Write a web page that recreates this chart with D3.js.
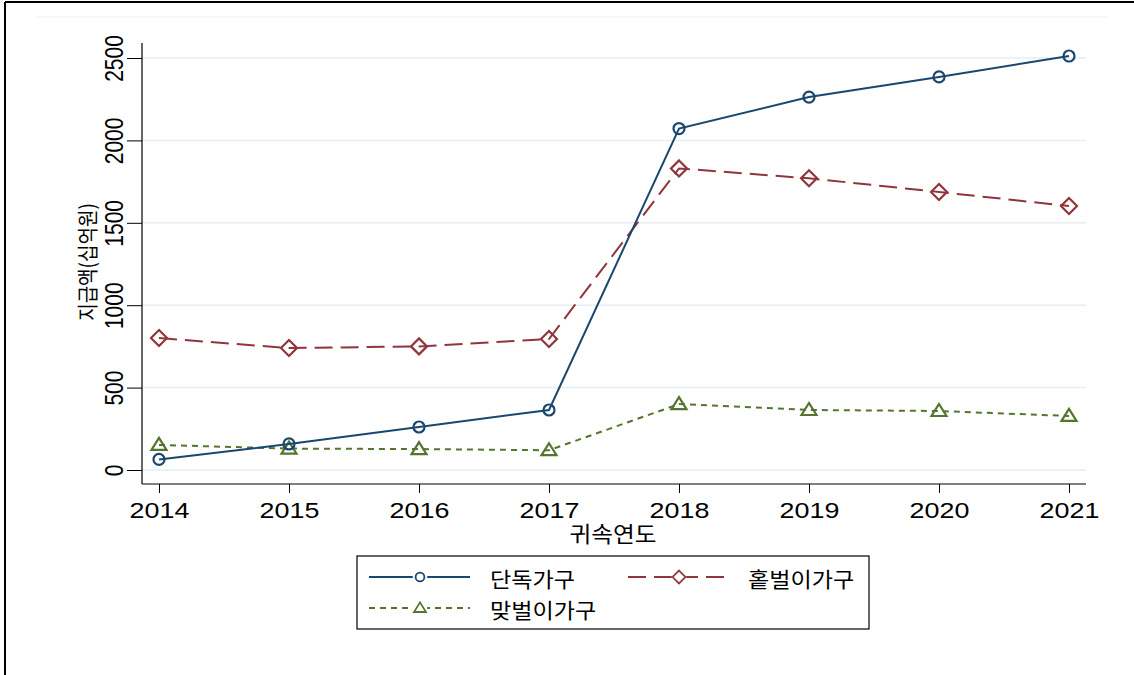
<!DOCTYPE html>
<html>
  <head>
    <meta charset="utf-8">
    <title>지급액 추이</title>
    <style type="text/css">
        body{ margin: 0; background: #fff; }
        text{ font-family: "Liberation Sans", Arial, sans-serif; fill: #000; }
        .kr{ font-family: "Noto Sans CJK KR", "Noto Sans", sans-serif; }
    </style>
  </head>
  <body>
    <div id="chart"></div>
    <script src="https://cdn.jsdelivr.net/npm/d3@7"></script>
    <script>
        // data
        var years = [2014, 2015, 2016, 2017, 2018, 2019, 2020, 2021];
        var single = [64, 158, 261, 364, 2072, 2263, 2385, 2512];
        var oneEarner = [801, 740, 750, 795, 1830, 1770, 1687, 1602];
        var dualEarner = [152, 130, 127, 120, 400, 364, 358, 328];
        var yTicks = [0, 500, 1000, 1500, 2000, 2500];
        var seriesNames = ['단독가구', '홑벌이가구', '맞벌이가구'];

        var width = 1134, height = 675;
        var stretch = 1.25;   // the original picture is a bit wider than tall
        var krStretch = 1.1;

        var svg = d3.select('#chart').append('svg')
            .attr('width', width)
            .attr('height', height);

        // outer frame (left and top edges are visible)
        svg.append('line').attr('x1', 5).attr('y1', 2).attr('x2', width).attr('y2', 2)
            .attr('stroke', '#000').attr('stroke-width', 2);
        svg.append('line').attr('x1', 5).attr('y1', 2).attr('x2', 5).attr('y2', height)
            .attr('stroke', '#000').attr('stroke-width', 2);
        svg.append('line').attr('x1', 35).attr('y1', 17).attr('x2', 1108).attr('y2', 17)
            .attr('stroke', '#eaf1f2').attr('stroke-width', 1);

        var x = d3.scaleLinear().domain([2014, 2021]).range([159, 1069]);
        var y = d3.scaleLinear().domain([0, 2500]).range([470, 58]);

        var plotLeft = 142, plotRight = 1086, plotTop = 43, plotBottom = 484;

        // gridlines
        svg.append('g').selectAll('line')
            .data(yTicks).enter().append('line')
            .attr('x1', plotLeft).attr('x2', plotRight)
            .attr('y1', function (d) { return y(d); })
            .attr('y2', function (d) { return y(d); })
            .attr('stroke', '#e6eef0').attr('stroke-width', 1.5);

        // y axis
        var yAxis = svg.append('g')
            .attr('transform', 'translate(' + plotLeft + ',0)')
            .call(d3.axisLeft(y).tickValues(yTicks).tickSize(15).tickFormat(d3.format('d')));
        yAxis.select('.domain').remove();
        yAxis.selectAll('.tick line').attr('stroke', '#000');
        yAxis.selectAll('.tick text')
            .attr('x', 0).attr('dy', '0.36em')
            .attr('transform', 'translate(-28,0) scale(' + stretch + ',1) rotate(-90)')
            .attr('text-anchor', 'middle')
            .style('font-size', '21px');
        svg.append('line')
            .attr('x1', plotLeft).attr('x2', plotLeft)
            .attr('y1', plotTop).attr('y2', plotBottom)
            .attr('stroke', '#000').attr('stroke-width', 1.2);

        // x axis
        var xAxis = svg.append('g')
            .attr('transform', 'translate(0,' + plotBottom + ')')
            .call(d3.axisBottom(x).tickValues(years).tickSize(9).tickFormat(d3.format('d')));
        xAxis.select('.domain').remove();
        xAxis.selectAll('.tick line').attr('stroke', '#000');
        xAxis.selectAll('.tick text')
            .attr('y', 0).attr('dy', 0)
            .attr('transform', 'translate(0,34) scale(' + stretch + ',1)')
            .attr('text-anchor', 'middle')
            .style('font-size', '21.5px');
        svg.append('line')
            .attr('x1', plotLeft).attr('x2', plotRight)
            .attr('y1', plotBottom).attr('y2', plotBottom)
            .attr('stroke', '#000').attr('stroke-width', 1.2);

        // axis titles
        svg.append('text').attr('class', 'kr')
            .attr('transform', 'translate(86,262) scale(' + krStretch + ',1) rotate(-90)')
            .attr('text-anchor', 'middle')
            .attr('dominant-baseline', 'central')
            .style('font-size', '19px')
            .text('지급액(십억원)');
        svg.append('text').attr('class', 'kr')
            .attr('transform', 'translate(613,533) scale(' + krStretch + ',1)')
            .attr('text-anchor', 'middle')
            .attr('dominant-baseline', 'central')
            .style('font-size', '21.5px')
            .text('귀속연도');

        var series = [
            { name: seriesNames[0], values: single, color: '#1a476f', dash: null, marker: 'circle' },
            { name: seriesNames[1], values: oneEarner, color: '#90353b', dash: '18,8', marker: 'diamond' },
            { name: seriesNames[2], values: dualEarner, color: '#55752f', dash: '6,5', marker: 'triangle' }
        ];

        var line = d3.line()
            .x(function (d, i) { return x(years[i]); })
            .y(function (d) { return y(d); });

        function drawMarker(g, type, color) {
            if (type === 'circle') {
                g.append('circle').attr('r', 5.5);
            } else if (type === 'diamond') {
                g.append('path').attr('d', 'M0,-8L8,0L0,8L-8,0Z');
            } else {
                g.append('path').attr('d', 'M0,-7L7.5,5L-7.5,5Z');
            }
            g.selectAll('*').attr('fill', '#fff').attr('fill-opacity', 0)
                .attr('stroke', color).attr('stroke-width', 2.2);
        }

        // draw in reverse so 단독가구 sits on top
        series.slice().reverse().forEach(function (s) {
            svg.append('path')
                .datum(s.values)
                .attr('d', line)
                .attr('fill', 'none')
                .attr('stroke', s.color)
                .attr('stroke-width', 2)
                .attr('stroke-dasharray', s.dash);
            svg.append('g').selectAll('g')
                .data(s.values).enter().append('g')
                .attr('transform', function (d, i) { return 'translate(' + x(years[i]) + ',' + y(d) + ')'; })
                .each(function () { drawMarker(d3.select(this), s.marker, s.color); });
        });

        // legend
        var legend = svg.append('g');
        legend.append('rect')
            .attr('x', 357).attr('y', 556).attr('width', 512).attr('height', 73)
            .attr('fill', '#fff').attr('stroke', '#000').attr('stroke-width', 1.2);
        var legendPos = [
            { lx: 369, ly: 577, tx: 490 },
            { lx: 628, ly: 577, tx: 748 },
            { lx: 369, ly: 608, tx: 490 }
        ];
        series.forEach(function (s, i) {
            var p = legendPos[i];
            legend.append('line')
                .attr('x1', p.lx).attr('x2', p.lx + 101)
                .attr('y1', p.ly).attr('y2', p.ly)
                .attr('stroke', s.color).attr('stroke-width', 2)
                .attr('stroke-dasharray', s.dash);
            var m = legend.append('g')
                .attr('transform', 'translate(' + (p.lx + 51) + ',' + p.ly + ') scale(0.8)');
            m.append('rect').attr('x', -9).attr('y', -9).attr('width', 18).attr('height', 18);
            drawMarker(m, s.marker, s.color);
            m.select('rect').attr('fill', '#fff').attr('fill-opacity', 1).attr('stroke', 'none');
            legend.append('text').attr('class', 'kr')
                .attr('transform', 'translate(' + p.tx + ',' + p.ly + ') scale(' + krStretch + ',1)')
                .attr('dominant-baseline', 'central')
                .style('font-size', '21px')
                .text(s.name);
        });
    </script>
  </body>
</html>
